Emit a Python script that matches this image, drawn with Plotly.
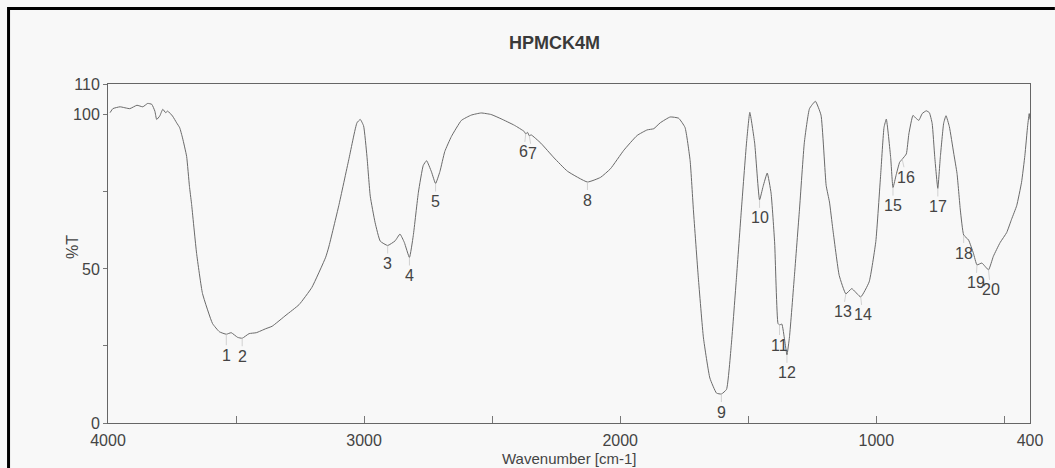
import plotly.graph_objects as go

# ---- data ----
wavenumber = [
    3992, 3981, 3953, 3915, 3887, 3864, 3845, 3829, 3817, 3810, 3798, 3786, 3775, 3767,
    3748, 3732, 3720, 3709, 3693, 3682, 3674, 3654, 3631, 3592, 3565, 3538, 3519, 3494,
    3476, 3449, 3421, 3384, 3359, 3305, 3254, 3204, 3150,
    3138, 3099, 3060, 3028, 3015, 3002, 2989, 2976, 2957, 2937, 2908, 2879, 2860, 2843,
    2823, 2808, 2788, 2769, 2756, 2737, 2721, 2704, 2685, 2659, 2620, 2582, 2543, 2504,
    2465, 2413, 2375, 2369, 2362, 2355, 2348, 2310, 2258, 2206,
    2128, 2077, 2038, 1986, 1934, 1895, 1869, 1844, 1805, 1772, 1747, 1727, 1714, 1695,
    1675, 1650, 1624, 1605, 1585, 1566, 1546, 1527, 1507, 1494,
    1475, 1456, 1442, 1426, 1411, 1397, 1384, 1378, 1369, 1358, 1349, 1339, 1320, 1300,
    1281, 1261, 1238, 1216, 1196, 1183, 1170, 1145, 1119, 1096, 1061, 1028, 1002, 983,
    970, 961, 944, 935,
    922, 909, 899, 883, 873, 857, 844, 834, 821, 805, 793, 782, 772, 760, 750, 737, 728,
    715, 698, 685, 672, 659, 640, 621, 607, 588, 562, 543, 517, 491, 472, 452, 433, 420,
    409, 403, 400,
]
transmittance = [
    100.7, 102.0, 102.6, 102.0, 103.1, 102.6, 103.7, 103.4, 101.2, 98.5, 99.6, 101.8, 100.7, 101.2,
    99.6, 97.4, 95.8, 92.5, 86.5, 76.8, 71.3, 55.0, 42.0, 32.3, 29.6, 28.8, 29.3, 27.8,
    27.5, 29.0, 29.3, 30.6, 31.4, 35.0, 38.4, 44.0, 53.8,
    57.1, 70.5, 85.4, 97.4, 98.5, 96.4, 86.6, 73.6, 65.0, 59.0, 57.6, 59.1, 61.3, 58.6,
    53.7, 60.8, 74.9, 83.6, 85.1, 81.5, 77.7, 81.6, 88.1, 93.0, 98.2, 99.9, 100.6, 100.1,
    98.7, 96.6, 94.6, 93.8, 94.3, 93.2, 93.5, 90.8, 86.0, 81.7,
    78.2, 79.7, 82.5, 88.5, 93.3, 95.1, 95.5, 97.4, 99.3, 98.9, 95.9, 85.1, 68.8, 47.1,
    27.6, 14.6, 9.7, 9.4, 10.9, 25.6, 47.3, 69.1, 90.8, 100.8,
    90.8, 72.4, 76.8, 81.1, 74.6, 58.4, 32.3, 31.8, 32.1, 26.9, 22.1, 28.0, 47.6, 69.4,
    91.1, 102.0, 104.4, 99.9, 77.1, 71.7, 63.0, 47.9, 41.9, 43.6, 40.9, 45.8, 58.9, 80.7,
    95.9, 98.6, 86.1, 76.4,
    80.7, 84.6, 85.6, 87.3, 93.8, 99.8, 98.8, 98.2, 100.4, 101.3, 100.7, 97.2, 86.4, 76.1, 86.4, 97.3, 99.7,
    96.2, 87.6, 81.0, 69.1, 61.0, 59.4, 55.1, 51.3, 51.9, 49.7, 54.1, 58.5, 61.8, 66.1, 70.5, 78.1, 86.8,
    96.6, 100.4, 98.5,
]

peak_labels = ["1", "2", "3", "4", "5", "6", "7", "8", "9", "10",
               "11", "12", "13", "14", "15", "16", "17", "18", "19", "20"]
peak_wn = [3538, 3476, 2908, 2823, 2721, 2369, 2355, 2128, 1605, 1456,
           1378, 1349, 1119, 1061, 935, 899, 760, 659, 607, 562]
peak_t = [28.8, 27.5, 57.6, 53.7, 77.7, 93.8, 93.2, 78.2, 9.4, 72.4,
          31.8, 22.1, 41.9, 40.9, 76.4, 85.6, 76.1, 61.0, 51.3, 49.7]

x_tickvals = [4000, 3500, 3000, 2500, 2000, 1500, 1000, 500, 400]
x_ticktext = ["4000", "", "3000", "", "2000", "", "1000", "", "400"]
y_tickvals = [0, 25, 50, 75, 100, 110]
y_ticktext = ["0", "", "50", "", "100", "110"]

title_text = "HPMCK4M"
x_title = "Wavenumber [cm-1]"
y_title = "%T"

# ---- layout constants ----
W, H = 1055, 468
ML, MR, MT, MB = 108, 20, 84, 45
FONT = "Liberation Sans Narrow, Arial Narrow, Liberation Sans, Arial, sans-serif"
TXT = "#444444"
BG = "#f8f8f8"

fig = go.Figure()
fig.add_trace(go.Scatter(
    x=wavenumber, y=transmittance, mode="lines",
    line=dict(color="#6a6a6a", width=1, shape="spline", smoothing=0.4),
    hoverinfo="skip", showlegend=False,
))

# per-label small horizontal nudges (pixels) to mimic the overlapping labels
nudge = {"6": -2, "7": 3, "13": -3, "14": 2, "16": 4, "19": -1, "20": 2}
drop = {"1": 21, "11": 20, "20": 20}
for lab, wn, t in zip(peak_labels, peak_wn, peak_t):
    fig.add_annotation(
        x=wn, y=t, text=lab, showarrow=True, arrowhead=0, arrowwidth=0.8,
        arrowcolor="#c8c8c8", ax=nudge.get(lab, 0), ay=drop.get(lab, 18),
        font=dict(family=FONT, size=16, color=TXT), standoff=0,
    )

plot_h = H - MT - MB
plot_w = W - ML - MR
fig.add_annotation(
    xref="paper", yref="paper", x=(557 - ML) / plot_w, y=1, yshift=MT - 43,
    text="<b>" + title_text + "</b>", showarrow=False,
    font=dict(family=FONT, size=18, color="#3a3a3a"), yanchor="middle",
)
fig.add_annotation(
    xref="paper", yref="paper", x=0.5, y=0, yshift=-(458 - (H - MB)),
    text=x_title, showarrow=False, yanchor="middle",
    font=dict(family=FONT, size=15, color=TXT),
)
fig.add_annotation(
    xref="paper", yref="paper", x=0, xshift=72 - ML, y=((H - MB) - 247) / plot_h,
    text=y_title, showarrow=False, textangle=-90, xanchor="center", yanchor="middle",
    font=dict(family=FONT, size=16, color=TXT),
)

# scanned-page black frame (top and left edges)
fig.add_shape(type="line", xref="paper", yref="paper",
              x0=(8 - ML) / plot_w, x1=(W + 5 - ML) / plot_w,
              y0=1 + (MT - 8.5) / plot_h, y1=1 + (MT - 8.5) / plot_h,
              line=dict(color="black", width=3))
fig.add_shape(type="line", xref="paper", yref="paper",
              x0=(8 - ML) / plot_w, x1=(8 - ML) / plot_w,
              y0=1 + (MT - 7) / plot_h, y1=-(MB + 5) / plot_h,
              line=dict(color="black", width=3))

fig.update_layout(
    width=W, height=H,
    margin=dict(l=ML, r=MR, t=MT, b=MB, pad=0),
    paper_bgcolor=BG, plot_bgcolor=BG,
    font=dict(family=FONT, size=16, color=TXT),
    showlegend=False,
)
fig.update_xaxes(
    range=[4000, 400], tickvals=x_tickvals, ticktext=x_ticktext,
    ticks="inside", ticklen=7, tickcolor="#777", tickwidth=1,
    showline=True, linecolor="#666", linewidth=1, mirror=True,
    showgrid=False, zeroline=False, ticklabelstandoff=3,
    tickfont=dict(family=FONT, size=16, color=TXT),
)
fig.update_yaxes(
    range=[0, 110], tickvals=y_tickvals, ticktext=y_ticktext,
    ticks="outside", ticklen=4, tickcolor="#777", tickwidth=1,
    showline=True, linecolor="#666", linewidth=1, mirror=True,
    showgrid=False, zeroline=False,
    tickfont=dict(family=FONT, size=16, color=TXT),
)

fig.write_html("out.html")
